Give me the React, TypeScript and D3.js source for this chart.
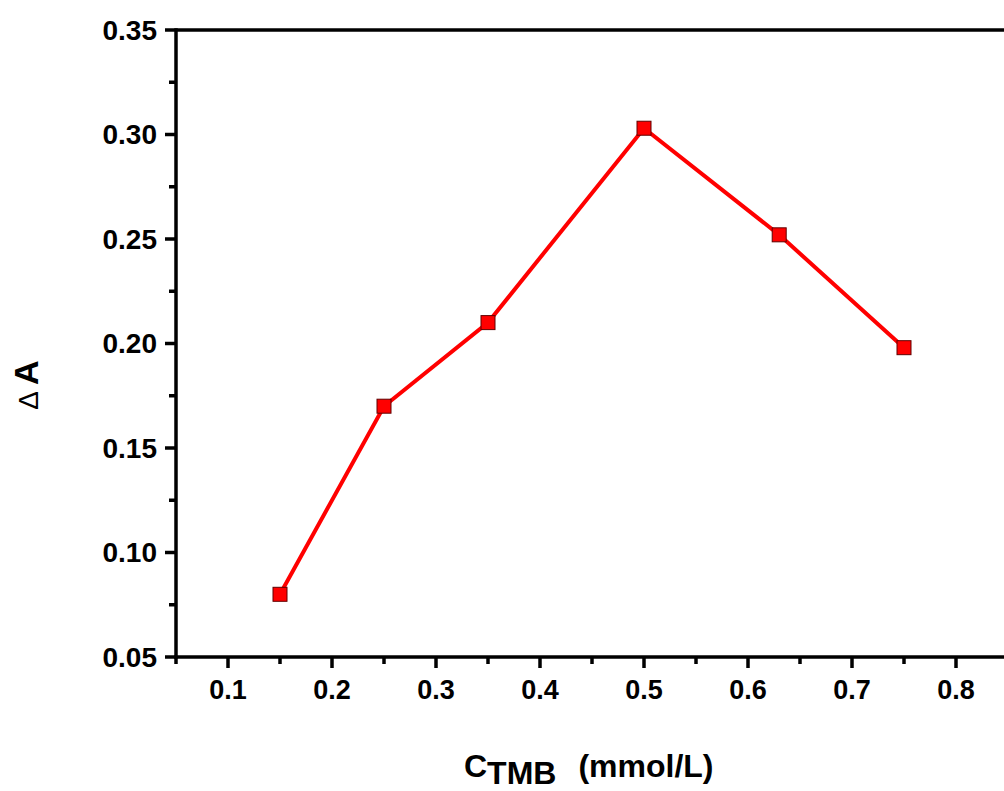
import React from "react";
import * as d3 from "d3";

// concentration of TMB (mmol/L) and absorbance change
const concentrations = [0.15, 0.25, 0.35, 0.5, 0.63, 0.75];
const deltaA = [0.08, 0.17, 0.21, 0.303, 0.252, 0.198];
const xTicks = [0.1, 0.2, 0.3, 0.4, 0.5, 0.6, 0.7, 0.8];
const xMinorTicks = [0.05, 0.15, 0.25, 0.35, 0.45, 0.55, 0.65, 0.75, 0.85];
const yTicks = [0.05, 0.1, 0.15, 0.2, 0.25, 0.3, 0.35];
const yMinorTicks = [0.075, 0.125, 0.175, 0.225, 0.275, 0.325];

const App = () => {
  const width = 1004;
  const height = 791;
  const left = 176;
  const top = 30;
  const bottom = 657;
  const right = 1008; // frame runs off the page on the right

  const xScale = d3.scaleLinear().domain([0.05, 0.85]).range([left, right]);
  const yScale = d3.scaleLinear().domain([0.05, 0.35]).range([bottom, top]);

  const points = concentrations.map((c, i) => [c, deltaA[i]] as [number, number]);
  const line = d3
    .line<[number, number]>()
    .x((d) => xScale(d[0]))
    .y((d) => yScale(d[1]));

  const font = "'Liberation Sans', Arial, sans-serif";

  return (
    <svg
      width={width}
      height={height}
      style={{ position: "absolute", top: 0, left: 0, background: "#fff" }}
    >
      {/* frame */}
      <line x1={left} x2={right} y1={top} y2={top} stroke="#000" strokeWidth={3.5} />
      <line x1={left} x2={left} y1={top - 1.75} y2={bottom + 1.75} stroke="#000" strokeWidth={3.5} />
      <line x1={left - 1.75} x2={right} y1={bottom} y2={bottom} stroke="#000" strokeWidth={3.5} />

      {/* x ticks */}
      {xTicks.map((t) => (
        <g key={`x-${t}`}>
          <line
            x1={xScale(t)}
            x2={xScale(t)}
            y1={bottom}
            y2={bottom + 11}
            stroke="#000"
            strokeWidth={3.5}
          />
          <text
            x={xScale(t)}
            y={699}
            textAnchor="middle"
            fontFamily={font}
            fontWeight="bold"
            fontSize={27}
          >
            {t.toFixed(1)}
          </text>
        </g>
      ))}
      {xMinorTicks.map((t) => (
        <line
          key={`xm-${t}`}
          x1={xScale(t)}
          x2={xScale(t)}
          y1={bottom}
          y2={bottom + 7}
          stroke="#000"
          strokeWidth={3.5}
        />
      ))}

      {/* y ticks */}
      {yTicks.map((t) => (
        <g key={`y-${t}`}>
          <line
            x1={left - 11}
            x2={left}
            y1={yScale(t)}
            y2={yScale(t)}
            stroke="#000"
            strokeWidth={3.5}
          />
          <text
            x={157}
            y={yScale(t) + 9.5}
            textAnchor="end"
            fontFamily={font}
            fontWeight="bold"
            fontSize={28}
          >
            {t.toFixed(2)}
          </text>
        </g>
      ))}
      {yMinorTicks.map((t) => (
        <line
          key={`ym-${t}`}
          x1={left - 7}
          x2={left}
          y1={yScale(t)}
          y2={yScale(t)}
          stroke="#000"
          strokeWidth={3.5}
        />
      ))}

      {/* data */}
      <path d={line(points) ?? ""} fill="none" stroke="#ff0000" strokeWidth={4} />
      {points.map((d, i) => (
        <rect
          key={`p-${i}`}
          x={xScale(d[0]) - 7}
          y={yScale(d[1]) - 7}
          width={14}
          height={14}
          fill="#ff0000"
          stroke="#600000"
          strokeWidth={1}
        />
      ))}

      {/* axis titles */}
      <text
        transform={`translate(38, 385) rotate(-90)`}
        textAnchor="middle"
        fontFamily={font}
      >
        <tspan fontWeight="normal" fontSize={28}>Δ</tspan>
        <tspan fontWeight="bold" fontSize={34} dx={6}>A</tspan>
      </text>
      <text x={464} y={777} fontFamily={font} fontWeight="bold" fontSize={32}>
        C
        <tspan dy={7}>TMB</tspan>
        <tspan dy={-7} dx={22}>(mmol/L)</tspan>
      </text>
    </svg>
  );
};

export default App;
